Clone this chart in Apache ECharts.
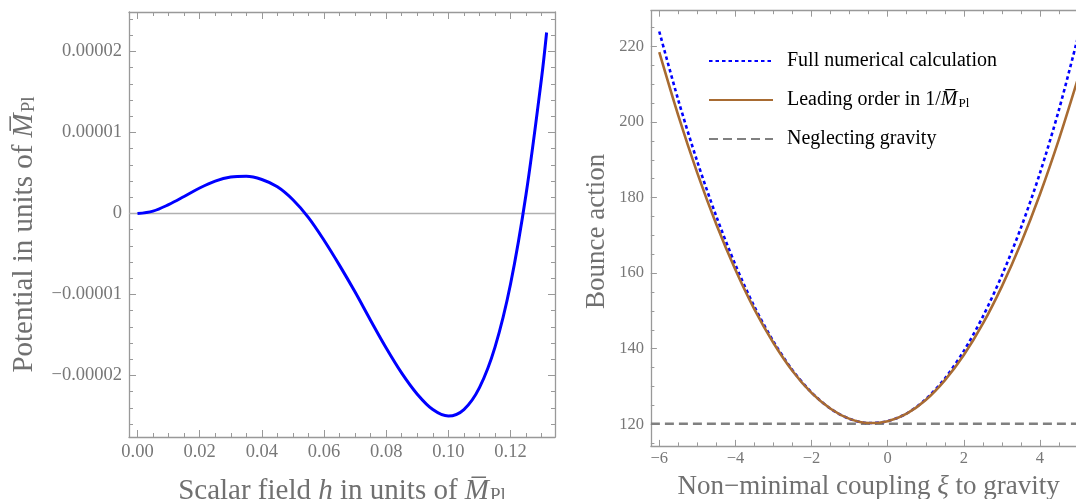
<!DOCTYPE html>
<html>
<head>
<meta charset="utf-8">
<script src="https://cdn.jsdelivr.net/npm/echarts@6/dist/echarts.min.js"></script>
<style>
html,body{margin:0;padding:0;background:#fff;}
#chart{width:1076px;height:499px;}
</style>
</head>
<body>
<div id="chart"></div>
<script>
// ---------- Left panel: potential ----------
const scalarField = [0, 0.005, 0.01, 0.015, 0.02, 0.025, 0.03, 0.035, 0.04, 0.045, 0.05, 0.055, 0.06, 0.065, 0.07, 0.075, 0.08, 0.085, 0.09, 0.095, 0.1, 0.105, 0.11, 0.115, 0.12, 0.125, 0.13, 0.1316];
const potential = [0, 0.03e-5, 0.11e-5, 0.21e-5, 0.315e-5, 0.40e-5, 0.45e-5, 0.46e-5, 0.42e-5, 0.33e-5, 0.17e-5, -0.05e-5, -0.33e-5, -0.64e-5, -0.97e-5, -1.32e-5, -1.66e-5, -1.97e-5, -2.23e-5, -2.42e-5, -2.50e-5, -2.42e-5, -2.15e-5, -1.65e-5, -0.87e-5, 0.24e-5, 1.68e-5, 2.235e-5];
const leftXTicks = [0, 0.02, 0.04, 0.06, 0.08, 0.10, 0.12];
const leftXTickLabels = ['0.00', '0.02', '0.04', '0.06', '0.08', '0.10', '0.12'];
const leftYTicks = [-0.00002, -0.00001, 0, 0.00001, 0.00002];
const leftYTickLabels = ['\u22120.00002', '\u22120.00001', '0', '0.00001', '0.00002'];

// ---------- Right panel: bounce action ----------
const xi = [-6, -5.5, -5, -4.5, -4, -3.5, -3, -2.5, -2, -1.5, -1, -0.5, 0, 0.5, 1, 1.5, 2, 2.5, 3, 3.5, 4, 4.5, 5];
const fullNumerical = [224.0, 205.8, 189.5, 175.0, 162.2, 151.1, 141.9, 134.3, 128.4, 124.1, 121.4, 120.3, 120.8, 122.85, 126.6, 132.1, 139.4, 148.5, 159.4, 172.0, 186.5, 203.3, 222.6];
const leadingOrder = [218.5, 201.7, 186.5, 172.9, 160.9, 150.4, 141.5, 134.1, 128.3, 124.1, 121.4, 120.3, 120.8, 122.8, 126.4, 131.6, 138.3, 146.6, 156.5, 167.9, 180.9, 195.5, 211.6];
const neglectXi = [-6.22, 5.22];
const neglectingGravity = [120.1, 120.1];
const rightXTicks = [-6, -4, -2, 0, 2, 4];
const rightXTickLabels = ['\u22126', '\u22124', '\u22122', '0', '2', '4'];
const rightYTicks = [120, 140, 160, 180, 200, 220];
const rightYTickLabels = ['120', '140', '160', '180', '200', '220'];
const seriesNames = ['Full numerical calculation', 'Leading order in 1/M', 'Neglecting gravity'];

function range(a, b, step) {
  const out = [];
  const n = Math.round((b - a) / step);
  for (let i = 0; i <= n; i++) out.push(+(a + i * step).toPrecision(10));
  return out;
}
const leftXMinor = range(0, 0.13, 0.005);
const leftYMinor = range(-0.000026, 0.000024, 0.000002);
const rightXMinor = range(-6, 5, 0.5);
const rightYMinor = range(115, 225, 5);

const FONT = 'Liberation Serif';
const FRAME = '#999';
const LABEL = '#777';
const TITLE = '#707070';

function lookup(vals, labels) {
  return function (v) {
    for (let i = 0; i < vals.length; i++) {
      if (Math.abs(vals[i] - v) < Math.abs(vals[1] - vals[0]) * 1e-6) return labels[i];
    }
    return '';
  };
}

function richTitle(fs) {
  return {
    m: {fontFamily: FONT, fontSize: fs, fontStyle: 'italic', color: TITLE},
    i: {fontFamily: FONT, fontSize: fs, fontStyle: 'italic', color: TITLE},
    s: {fontFamily: FONT, fontSize: Math.round(fs * 0.65), color: TITLE, padding: [Math.round(fs * 0.35), 0, 0, 1]}
  };
}

function axisSet(gridIndex, pos, min, max, majors, minors, labels, sz, extra) {
  const base = {
    gridIndex: gridIndex, type: 'value', min: min, max: max, position: pos, offset: 0,
    splitLine: {show: false}, silent: true, nameMoveOverlap: false
  };
  const main = Object.assign({}, base, {
    axisLine: {show: true, onZero: false, lineStyle: {color: FRAME, width: 1.3}},
    axisTick: {show: true, inside: true, length: sz.major, customValues: majors, lineStyle: {color: FRAME, width: 1}},
    axisLabel: labels ? {show: true, customValues: majors, formatter: lookup(majors, labels),
      fontFamily: FONT, fontSize: sz.font, color: LABEL, margin: sz.margin} : {show: false}
  }, extra || {});
  const minor = Object.assign({}, base, {
    axisLine: {show: false, onZero: false},
    axisTick: {show: true, inside: true, length: sz.minor, customValues: minors, lineStyle: {color: FRAME, width: 1}},
    axisLabel: {show: false}
  });
  return [main, minor];
}

const L = {major: 7, minor: 4, font: 18.5};
const R = {major: 6, minor: 3.5, font: 16.5};

const xAxes = [].concat(
  axisSet(0, 'bottom', -0.00273, 0.1343, leftXTicks, leftXMinor, leftXTickLabels, Object.assign({margin: 6}, L), {
    name: 'Scalar field {i|h} in units of {m|M\u0305}{s|Pl}', nameLocation: 'middle', nameGap: 40,
    nameTextStyle: {fontFamily: FONT, fontSize: 29, color: TITLE, rich: richTitle(29)}
  }),
  axisSet(0, 'top', -0.00273, 0.1343, leftXTicks, leftXMinor, null, L),
  axisSet(1, 'bottom', -6.22, 5.22, rightXTicks, rightXMinor, rightXTickLabels, Object.assign({margin: 4}, R), {
    name: 'Non\u2212minimal coupling {i|\u03BE} to gravity', nameLocation: 'middle', nameGap: 28,
    nameTextStyle: {fontFamily: FONT, fontSize: 27, color: TITLE, rich: richTitle(27)}
  }),
  axisSet(1, 'top', -6.22, 5.22, rightXTicks, rightXMinor, null, R)
);
const yAxes = [].concat(
  axisSet(0, 'left', -0.00002759, 0.00002488, leftYTicks, leftYMinor, leftYTickLabels, Object.assign({margin: 7}, L), {
    name: 'Potential in units of {m|M\u0305}{s|Pl}', nameLocation: 'middle', nameGap: 90,
    nameTextStyle: {fontFamily: FONT, fontSize: 29, color: TITLE, rich: richTitle(29), padding: [0, 20, 0, 0]}
  }),
  axisSet(0, 'right', -0.00002759, 0.00002488, leftYTicks, leftYMinor, null, L),
  axisSet(1, 'left', 114.25, 229.5, rightYTicks, rightYMinor, rightYTickLabels, Object.assign({margin: 7}, R), {
    name: 'Bounce action', nameLocation: 'middle', nameGap: 40,
    nameTextStyle: {fontFamily: FONT, fontSize: 27, color: TITLE, padding: [0, 6, 0, 0]}
  }),
  axisSet(1, 'right', 114.25, 229.5, rightYTicks, rightYMinor, null, R)
);

const chart = echarts.init(document.getElementById('chart'), null, {renderer: 'canvas'});
chart.setOption({
  animation: false,
  backgroundColor: '#fff',
  grid: [
    {left: 129, top: 12, width: 426, height: 425, containLabel: false, outerBoundsMode: 'none'},
    {left: 650.9, top: 10.7, width: 435.5, height: 435.2, containLabel: false, outerBoundsMode: 'none'}
  ],
  xAxis: xAxes,
  yAxis: yAxes,
  legend: {
    data: seriesNames,
    orient: 'vertical',
    left: 708, top: 51,
    itemWidth: 64, itemHeight: 16, itemGap: 19,
    padding: 0,
    itemStyle: {color: 'rgba(0,0,0,0)', borderWidth: 0, opacity: 0},
    textStyle: {fontFamily: FONT, fontSize: 20, color: '#000', padding: [0, 0, 0, 9],
      rich: {
        m: {fontFamily: FONT, fontSize: 20, fontStyle: 'italic', color: '#000'},
        s: {fontFamily: FONT, fontSize: 13, color: '#000', padding: [7, 0, 0, 1]}
      }},
    formatter: function (name) {
      if (name === seriesNames[1]) return 'Leading order in 1/{m|M\u0305}{s|Pl}';
      return name;
    },
    selectedMode: false
  },
  series: [
    {
      type: 'line', xAxisIndex: 0, yAxisIndex: 0, name: 'potential',
      data: scalarField.map((h, i) => [h, potential[i]]),
      smooth: 0.35, symbol: 'none', clip: true,
      lineStyle: {color: '#0000ff', width: 3},
      markLine: {
        silent: true, symbol: 'none', label: {show: false},
        lineStyle: {color: '#b0b0b0', width: 1.3, type: 'solid'},
        data: [{yAxis: 0}], z: 1
      },
      z: 3
    },
    {
      type: 'line', xAxisIndex: 4, yAxisIndex: 4, name: seriesNames[2],
      data: neglectXi.map((x, i) => [x, neglectingGravity[i]]),
      symbol: 'none', clip: true,
      lineStyle: {color: '#808080', width: 2.6, type: [9, 5]},
      itemStyle: {color: '#808080'},
      z: 2
    },
    {
      type: 'line', xAxisIndex: 4, yAxisIndex: 4, name: seriesNames[0],
      data: xi.map((x, i) => [x, fullNumerical[i]]),
      smooth: 0.3, symbol: 'none', clip: true,
      lineStyle: {color: '#0000ff', width: 2.6, type: [3.5, 3]},
      itemStyle: {color: '#0000ff'},
      z: 3
    },
    {
      type: 'line', xAxisIndex: 4, yAxisIndex: 4, name: seriesNames[1],
      data: xi.map((x, i) => [x, leadingOrder[i]]),
      smooth: 0.3, symbol: 'none', clip: true,
      lineStyle: {color: '#a86b32', width: 2.6},
      itemStyle: {color: '#a86b32'},
      z: 4
    }
  ]
});
</script>
</body>
</html>
